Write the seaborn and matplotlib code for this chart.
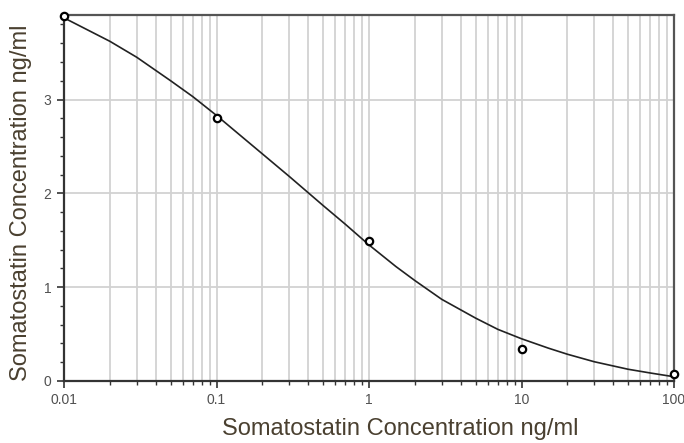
import numpy as np
import pandas as pd
import seaborn as sns
from matplotlib import pyplot as plt
from matplotlib.ticker import LogLocator, FixedLocator, MultipleLocator

# measured standards
std_conc = [0.01, 0.1, 1, 10, 100]
std_od = [3.89, 2.80, 1.49, 0.34, 0.07]

# fitted curve
curve_conc = [0.01, 0.02, 0.03, 0.05, 0.07, 0.1, 0.15, 0.2, 0.3, 0.5, 0.7, 1,
              1.5, 2, 3, 5, 7, 10, 15, 20, 30, 50, 70, 100]
curve_od = [3.87, 3.62, 3.45, 3.20, 3.03, 2.83, 2.59, 2.42, 2.18, 1.87, 1.67, 1.45,
            1.22, 1.07, 0.87, 0.67, 0.55, 0.45, 0.35, 0.285, 0.205, 0.125, 0.085, 0.045]

x_ticks = [0.01, 0.1, 1, 10, 100]
x_tick_labels = ['0.01', '0.1', '1', '10', '100']
y_ticks = [0, 1, 2, 3]

label_color = '#4a4030'
tick_color = '#505050'

sns.set_style('white')
plt.rcParams['font.family'] = ['Liberation Sans', 'DejaVu Sans']

fig = plt.figure(figsize=(6.84, 4.43), dpi=100)
ax = fig.add_axes([0.0936, 0.14, 0.8918, 0.826])

curve = pd.DataFrame({'conc': curve_conc, 'od': curve_od})
points = pd.DataFrame({'conc': std_conc, 'od': std_od})

sns.lineplot(data=curve, x='conc', y='od', color='#222222', linewidth=1.2, ax=ax, zorder=3)
sns.scatterplot(data=points, x='conc', y='od', ax=ax, s=28, facecolor='white',
                edgecolor='black', linewidth=1.6, zorder=4, clip_on=False)

ax.set_xscale('log')
ax.set_xlim(0.01, 100)
ax.set_ylim(0, 3.9)

ax.xaxis.set_major_locator(FixedLocator(x_ticks))
ax.set_xticklabels(x_tick_labels)
ax.xaxis.set_minor_locator(LogLocator(base=10, subs=np.arange(2, 10)))
ax.set_yticks(y_ticks)
ax.yaxis.set_minor_locator(MultipleLocator(0.2))

ax.grid(True, which='major', axis='both', color='#d2d2d2', linewidth=1.3)
ax.grid(True, which='minor', axis='x', color='#d2d2d2', linewidth=1.3)
ax.set_axisbelow(True)

ax.tick_params(axis='both', which='major', direction='out', length=5, width=1.2,
               color='#333333', labelsize=10, labelcolor=tick_color, pad=4, bottom=True, left=True)
ax.tick_params(axis='both', which='minor', direction='out', length=3, width=1.0,
               color='#333333', bottom=True, left=True)

for side in ['left', 'bottom']:
    ax.spines[side].set_color('#333333')
    ax.spines[side].set_linewidth(1.6)
for side in ['top', 'right']:
    ax.spines[side].set_color('#555555')
    ax.spines[side].set_linewidth(1.6)

ax.set_xlabel('Somatostatin Concentration ng/ml', fontsize=17, color=label_color)
ax.set_ylabel('Somatostatin Concentration ng/ml', fontsize=17, color=label_color)
ax.xaxis.set_label_coords(0.551, -0.10)
ax.yaxis.set_label_coords(-0.0525, 0.486)

fig.savefig('out.png', dpi=100)
